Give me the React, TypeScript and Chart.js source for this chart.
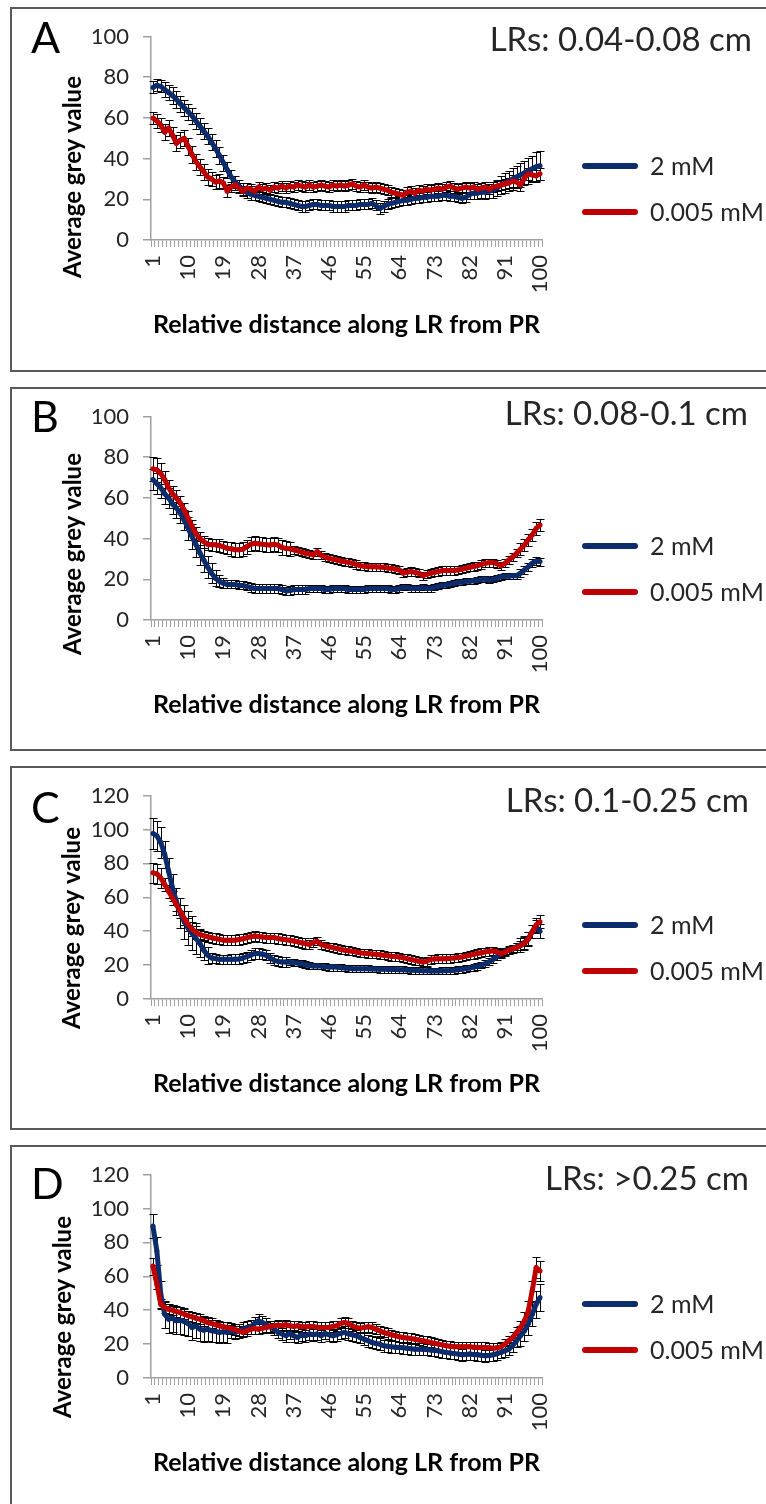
import React, { useEffect, useRef } from 'react';
import { Chart, registerables } from 'chart.js';

Chart.register(...registerables);

// ---------- data ----------
const categories: string[] = Array.from({ length: 100 }, (_, i) => String(i + 1));
const tickLabels = ['1', '10', '19', '28', '37', '46', '55', '64', '73', '82', '91', '100'];
const seriesNames = ['2 mM', '0.005 mM'];
const panelLetters = ['A', 'B', 'C', 'D'];
const panelRanges = ['LRs: 0.04-0.08 cm', 'LRs: 0.08-0.1 cm', 'LRs: 0.1-0.25 cm', 'LRs: >0.25 cm'];
const yMaxes = [100, 100, 120, 120];
const xTitle = 'Relative distance along LR from PR';
const yTitle = 'Average grey value';

const aBlue = [
  75, 76, 75.5, 74, 72.5, 71, 69, 67, 65, 63,
  61, 58.5, 56, 53.5, 51, 48, 45, 41.5, 38, 34.5,
  31, 28.5, 26.5, 25, 23.5, 22.5, 22, 21.5, 21, 20.5,
  20, 19.5, 19, 18.5, 18.5, 18, 17.5, 17, 16.5, 16.5,
  17, 17.5, 17.5, 17, 17, 17, 16.5, 16.5, 16.5, 16.5,
  17, 17, 17, 17.5, 17.5, 17.5, 18, 17, 15.5, 16.5,
  17.5, 18, 18.5, 19, 19.5, 19.5, 20, 20.5, 20.5, 21,
  21, 21.5, 21.5, 21.5, 22, 22, 21.5, 21.5, 21, 20.5,
  21, 22.5, 23, 23, 23.5, 23.5, 24, 24.5, 25.5, 27,
  28, 29, 30, 31, 32, 33, 34, 35, 36, 36.5,
];
const aRed = [
  60, 58.5, 56.5, 53, 55, 51.5, 47.5, 49, 50, 46,
  42, 38.5, 36, 33.5, 31, 30, 28.5, 29, 28, 24,
  26, 27, 25.5, 24, 25.5, 25, 24, 26, 25, 25.5,
  24.5, 26, 25.5, 26.5, 25.5, 26.5, 26, 27, 26.5, 26,
  27, 26, 26.5, 27, 26.5, 26, 27, 26.5, 27, 26.5,
  27, 27.5, 26.5, 26, 27, 26, 25.5, 26, 25.5, 25,
  24.5, 23.5, 23, 22.5, 22, 23.5, 24, 23, 24.5, 24,
  25, 24.5, 25, 25.5, 25, 26, 26.5, 25.5, 25, 25.5,
  26, 25.5, 26, 25, 25.5, 26, 25, 26, 26.5, 27,
  27.5, 28, 29, 28.5, 27, 30.5, 32.5, 32, 31.5, 32.5,
];
const aBlueErr = [
  3, 3, 3, 3.5, 3.5, 4, 4, 4, 4, 4,
  4, 4, 4, 4, 4, 4, 4, 4, 4, 4,
  3.5, 3, 3, 3, 3, 3, 2.5, 2.5, 2.5, 2.5,
  2.5, 2.5, 2.5, 2.5, 2.5, 2.5, 2.5, 2.5, 2.5, 2.5,
  2.5, 2.5, 2.5, 2.5, 2.5, 2.5, 2.5, 2.5, 2.5, 2.5,
  2.5, 2.5, 2.5, 2.5, 2.5, 2.5, 2.5, 2.5, 2.5, 2.5,
  2.5, 2.5, 2.5, 2.5, 2.5, 2.5, 2.5, 2.5, 2.5, 2.5,
  2.5, 2.5, 2.5, 2.5, 2.5, 2.5, 2.5, 2.5, 2.5, 2.5,
  2.5, 2.5, 3, 3, 3, 3.5, 3.5, 4, 4, 4.5,
  5, 5, 5.5, 5.5, 6, 6, 6.5, 6.5, 7, 7,
];
const aRedErr = [
  3, 3.5, 3.5, 4, 4, 4, 4, 4, 4, 4,
  4, 4, 4, 4, 4, 3.5, 3.5, 3.5, 3, 3,
  2.5, 2.5, 2.5, 2.5, 2.5, 2.5, 2.5, 2.5, 2.5, 2.5,
  2.5, 2.5, 2.5, 2.5, 2.5, 2.5, 2.5, 2.5, 2.5, 2.5,
  2.5, 2.5, 2.5, 2.5, 2.5, 2.5, 2.5, 2.5, 2.5, 2.5,
  2.5, 2.5, 2.5, 2.5, 2.5, 2.5, 2.5, 2.5, 2.5, 2.5,
  2.5, 2.5, 2.5, 2.5, 2.5, 2.5, 2.5, 2.5, 2.5, 2.5,
  2.5, 2.5, 2.5, 2.5, 2.5, 2.5, 2.5, 2.5, 2.5, 2.5,
  2.5, 2.5, 2.5, 2.5, 2.5, 2.5, 2.5, 2.5, 2.5, 2.5,
  2.5, 2.5, 3, 3, 3, 3, 3, 3, 3, 3,
];

const bBlue = [
  69, 67, 65, 62, 60, 57, 55, 52.5, 49, 45,
  41, 37, 33, 29.5, 26, 23, 20.5, 19, 18, 17.5,
  17.5, 17.5, 17, 17, 16.5, 16, 15.5, 15.5, 15.5, 15.5,
  15.5, 15.5, 15.5, 15, 14.3, 14.5, 15, 15, 15, 15,
  15.5, 15.5, 15.5, 15.5, 15, 15, 15.5, 15.5, 15.5, 15.5,
  15, 15, 15, 15, 15, 15.5, 15.5, 15.5, 15.5, 15.5,
  15.5, 15, 15, 15.5, 16, 16, 15.5, 15.5, 15.5, 16,
  15.5, 15.5, 16, 16.5, 17, 17.2, 17.7, 18, 18.5, 18.5,
  19, 19, 19.3, 19.5, 20, 20.2, 19.5, 20, 20.5, 21.3,
  21.5, 21.5, 21.8, 21.8, 23, 24.6, 26.2, 27.9, 29, 28.7,
];
const bRed = [
  74.3, 73.8, 72, 69, 65, 62, 60, 57.5, 54, 50,
  46, 42.5, 40, 38.5, 37.2, 37, 37, 36.6, 36, 35.2,
  35, 34.5, 34.5, 34.8, 36, 37.2, 37.7, 37.5, 37.2, 37,
  36.9, 37.2, 36.8, 35.6, 35.2, 35, 34.5, 34, 33.4, 32.8,
  32.4, 32, 33.6, 31.8, 31, 30.3, 29.9, 29.5, 29, 28.7,
  28.3, 27.9, 27.3, 26.7, 26.4, 26.2, 26.2, 26.2, 26, 25.9,
  25.6, 25.4, 25, 24.6, 23, 23.5, 23.8, 23.4, 23, 21.8,
  22.4, 23, 23.4, 23.8, 24.3, 24.3, 24.3, 24.3, 24.6, 25,
  25.4, 25.9, 26.3, 26.7, 27.3, 27.9, 28.2, 28.2, 27.6, 26.7,
  27.8, 29.5, 31, 32.8, 34.8, 36.9, 39.5, 41.8, 45, 46.7,
];
const bBlueErr = [
  5, 5, 5, 5, 5, 5, 5, 5, 5, 5.5,
  6, 6, 6, 6, 5.5, 5, 4, 3, 2.5, 2,
  2, 2, 2, 2, 2, 2, 2, 2, 2, 2,
  2, 2, 2, 2, 2, 2, 2, 2, 2, 2,
  1.5, 1.5, 1.5, 1.5, 1.5, 1.5, 1.5, 1.5, 1.5, 1.5,
  1.5, 1.5, 1.5, 1.5, 1.5, 1.5, 1.5, 1.5, 1.5, 1.5,
  1.5, 1.5, 1.5, 1.5, 1.5, 1.5, 1.5, 1.5, 1.5, 1.5,
  1.5, 1.5, 1.5, 1.5, 1.5, 1.5, 1.5, 1.5, 1.5, 1.5,
  1.5, 1.5, 1.5, 1.5, 1.5, 1.5, 1.5, 1.5, 1.5, 1.5,
  1.5, 1.5, 1.5, 1.5, 2, 2, 2, 2, 2, 2,
];
const bRedErr = [
  6, 6, 5, 4, 4, 4, 4, 3.5, 3.5, 3.5,
  3, 3, 3, 3, 3, 3, 3, 3, 3, 3,
  3.5, 3.5, 3.5, 3.5, 3.5, 3.5, 3.5, 3.5, 3.5, 3.5,
  3.5, 3.5, 3.5, 3.5, 3.5, 3.5, 2, 2, 2, 2,
  2, 2, 2, 2, 2, 2, 2, 2, 2, 2,
  2, 2, 2, 2, 2, 2, 2, 2, 2, 2,
  2, 2, 2, 2, 2, 2, 2, 2, 2, 2,
  2, 2, 2, 2, 2, 2, 2, 2, 2, 2,
  2, 2, 2, 2, 2, 2, 2, 2, 2, 2,
  2, 2, 2, 2, 3, 3, 3, 3, 3, 3,
];

const cBlue = [
  97.6, 96.2, 92.3, 85.3, 75.4, 65.5, 57.5, 50.6, 45.6, 41.7,
  38.7, 35.7, 32.7, 28.8, 25.8, 24.2, 23.8, 23.4, 23.4, 23.4,
  23.4, 23.4, 23.6, 24.2, 25, 25.8, 26.8, 26.8, 26.4, 25.8,
  24.2, 22.8, 22.2, 21.8, 21.8, 21.8, 21.4, 21.2, 20.8, 20.2,
  19.8, 19.4, 19.4, 19.4, 19, 18.8, 18.8, 18.8, 18.5, 18.3,
  18.1, 17.9, 17.9, 17.9, 17.9, 17.9, 17.7, 17.7, 17.5, 17.5,
  17.5, 17.4, 17.4, 17.3, 17.2, 17.1, 17, 16.9, 16.8, 16.7,
  16.6, 16.5, 16.5, 16.5, 16.6, 16.7, 16.8, 17, 17.2, 17.5,
  17.9, 18.3, 18.8, 19.2, 20, 20.8, 22, 23.4, 25, 26.8,
  27.8, 28.8, 29.8, 30.8, 32, 33.3, 35.7, 39.7, 42.7, 40,
];
const cRed = [
  74.4, 73.8, 71.4, 67.5, 63.5, 59.5, 55.6, 51.6, 47.6, 44,
  41.3, 39.3, 38.1, 37.3, 36.7, 36.1, 35.7, 35.3, 34.7, 34.7,
  34.7, 34.7, 35.1, 35.5, 36.1, 36.7, 37.1, 36.8, 36.5, 36.2,
  36.2, 36.2, 35.7, 35.3, 34.9, 34.7, 34.2, 33.7, 33.2, 32.7,
  32.2, 33.3, 34.1, 32.2, 31.4, 30.8, 30.3, 29.8, 29.3, 28.8,
  28.5, 28.2, 27.7, 27.2, 27, 26.8, 26.6, 26.4, 26.1, 25.8,
  25.5, 25.2, 25, 24.8, 24.3, 23.8, 23.3, 22.8, 22.3, 21.8,
  22.2, 23.4, 23.6, 23.8, 23.8, 23.8, 24, 24.2, 24.5, 24.8,
  25.3, 25.8, 26.3, 26.8, 27.3, 27.8, 28.1, 28.4, 27.8, 26.8,
  27.6, 28.8, 29.6, 30.4, 31.5, 32.7, 35.3, 39.7, 43.7, 45.6,
];
const cBlueErr = [
  9, 9, 9, 8, 8, 8, 8, 9, 10, 10,
  10, 9, 8, 6, 5, 3, 2.5, 2.5, 2.5, 2.5,
  3, 3, 3, 3, 3, 3, 3, 3, 3, 3,
  3, 3, 3, 3, 3, 2, 2, 2, 2, 2,
  2, 2, 2, 2, 2, 2, 2, 2, 2, 2,
  2, 2, 2, 2, 2, 2, 2, 2, 2, 2,
  2, 2, 2, 2, 2, 2, 2, 2, 2, 2,
  2, 2, 2, 2, 2, 2, 2, 2, 2, 2,
  2, 2, 2, 2, 2, 2, 2, 2, 2, 2,
  2, 2, 2, 2, 4, 4, 4, 4, 4, 4,
];
const cRedErr = [
  6, 6, 6, 4, 4, 4, 4, 4, 4, 4,
  4, 4, 3, 3, 3, 3, 3, 3, 3, 3,
  3, 3, 3, 3, 3, 3, 3, 3, 3, 3,
  3, 3, 3, 3, 3, 3, 3, 3, 3, 3,
  2.5, 2.5, 2.5, 2.5, 2.5, 2.5, 2.5, 2.5, 2.5, 2.5,
  2.5, 2.5, 2.5, 2.5, 2.5, 2.5, 2.5, 2.5, 2.5, 2.5,
  2.5, 2.5, 2.5, 2.5, 2.5, 2.5, 2.5, 2.5, 2.5, 2.5,
  2.5, 2.5, 2.5, 2.5, 2.5, 2.5, 2.5, 2.5, 2.5, 2.5,
  2.5, 2.5, 2.5, 2.5, 2.5, 2.5, 2.5, 2.5, 2.5, 2.5,
  2.5, 2.5, 2.5, 2.5, 2.5, 4, 4, 4, 4, 4,
];

const dBlue = [
  89.6, 74.9, 49.4, 37.6, 34.7, 35.3, 33.7, 34.1, 33.3, 32.2,
  29.8, 30.8, 28.8, 28.2, 28.8, 27.8, 27.5, 26.9, 27.3, 26.9,
  27.5, 26.9, 27.8, 28.8, 29.8, 30.2, 32.2, 33.7, 32.7, 31.4,
  30.2, 28.8, 26.9, 25.9, 24.9, 26.3, 24.9, 23.9, 25.5, 24.9,
  25.9, 25.5, 25.9, 24.9, 26.3, 25.5, 24.9, 25.5, 26.3, 26.9,
  25.9, 25.5, 24.9, 23.9, 22.9, 22, 21, 20.4, 20, 19,
  18.7, 18.4, 18.2, 18, 17.8, 17.6, 17.3, 17, 17, 17,
  16.8, 16.5, 16.2, 16, 15.5, 15.1, 14.8, 14.5, 14.1, 13.7,
  13.9, 14.1, 13.9, 13.7, 13.4, 13.1, 13.3, 13.7, 14.3, 15.1,
  16, 17, 19, 22, 24.9, 27.8, 32.2, 37.6, 43.5, 47.5,
];
const dRed = [
  66, 55.3, 43.5, 41.6, 40.6, 40, 39.2, 38.6, 37.6, 36.7,
  36.1, 35.3, 34.7, 33.7, 32.7, 32.2, 31.4, 30.8, 30.2, 29.8,
  29.2, 28.6, 27.8, 26.9, 27.8, 28.8, 29.2, 28.8, 29.4, 29.8,
  30.4, 30.8, 31.2, 30.8, 31.4, 30.8, 30.4, 30.8, 30.2, 30.2,
  30.4, 30.4, 30, 29.8, 29.8, 29.8, 30.4, 30.8, 32.2, 32.7,
  32.2, 30.8, 29.8, 29.4, 29.8, 30.2, 29.8, 28.8, 27.8, 26.9,
  26.2, 25.5, 24.9, 24.3, 23.9, 23.6, 23.3, 22.9, 22.4, 22,
  21.5, 21, 20.5, 20, 19.5, 19, 18.7, 18.4, 18.4, 18.4,
  18.4, 18.4, 18.2, 18, 18, 18, 17.8, 17.6, 17.8, 18.4,
  20, 22, 24, 26.9, 29.8, 33.7, 39.6, 51.4, 65.1, 63.1,
];
const dBlueErr = [
  7, 8, 8, 8, 8, 8, 8, 8, 8, 7.5,
  7.5, 7.5, 7, 7, 7, 6.5, 6.5, 6, 6, 6,
  4, 4, 4, 4, 4, 4, 4, 4, 4, 4,
  3.5, 3.5, 3.5, 3.5, 3.5, 3.5, 3.5, 3.5, 3.5, 3.5,
  3.5, 3.5, 3.5, 3.5, 3.5, 3.5, 3.5, 3.5, 3.5, 3.5,
  3.5, 3.5, 3.5, 3.5, 3.5, 3.5, 3.5, 3.5, 3.5, 3.5,
  3.5, 3.5, 3.5, 3.5, 3.5, 3.5, 3.5, 3.5, 3.5, 3.5,
  3.5, 3.5, 3.5, 3.5, 3.5, 3.5, 3.5, 3.5, 3.5, 3.5,
  3.5, 3.5, 3.5, 3.5, 3.5, 3.5, 3.5, 3.5, 3.5, 3.5,
  3.5, 3.5, 3.5, 3.5, 6, 6, 7, 7, 8, 8,
];
const dRedErr = [
  5, 3, 3, 3, 3, 3, 3, 3, 3, 3,
  3, 3, 3, 3, 3, 3, 3, 3, 3, 3,
  3, 3, 3, 3, 3, 3, 3, 3, 3, 3,
  3, 3, 3, 3, 3, 3, 3, 3, 3, 3,
  3, 3, 3, 3, 3, 3, 3, 3, 3, 3,
  3, 3, 3, 3, 3, 3, 3, 3, 3, 3,
  3, 3, 3, 3, 3, 3, 3, 3, 3, 3,
  3, 3, 3, 3, 3, 3, 3, 3, 3, 3,
  3, 3, 3, 3, 3, 3, 3, 3, 3, 3,
  3, 3, 3, 3, 4, 5, 6, 6, 6, 6,
];

const panelBlue = [aBlue, bBlue, cBlue, dBlue];
const panelRed = [aRed, bRed, cRed, dRed];
const panelBlueErr = [aBlueErr, bBlueErr, cBlueErr, dBlueErr];
const panelRedErr = [aRedErr, bRedErr, cRedErr, dRedErr];

// ---------- layout / style ----------
const BLUE = '#0c2c6c';
const RED = '#c00000';
const FONT = 'Lato';
const TEXT = '#262626';
const AXIS = '#a0a0a0';
const CANVAS_W = 770;
const CANVAS_H = 365;
const panelTops = [7, 387, 766, 1145];
const panelHeights = [365, 364, 364, 380];
const letterBase = [46, 45, 57, 54];
const rangeBase = [44, 38, 46, 45];
const rangeRight = [742, 738, 739, 739];
const yTitlePos = [[63, 170], [63, 167], [62, 162], [53, 172]];
const legendRows = [159, 205];

const errorBarPlugin = {
  id: 'errorBars',
  beforeDatasetsDraw(chart: any) {
    const { ctx } = chart;
    const y = chart.scales.y;
    ctx.save();
    ctx.strokeStyle = '#000';
    ctx.lineWidth = 1;
    chart.data.datasets.forEach((ds: any, di: number) => {
      const errs = ds.errors;
      if (!errs) return;
      const meta = chart.getDatasetMeta(di);
      meta.data.forEach((pt: any, i: number) => {
        const v = ds.data[i];
        const e = errs[i];
        const x = Math.round(pt.x) + 0.5;
        const yt = Math.round(y.getPixelForValue(v + e)) + 0.5;
        const yb = Math.round(y.getPixelForValue(v - e)) + 0.5;
        ctx.beginPath();
        ctx.moveTo(x, yt);
        ctx.lineTo(x, yb);
        ctx.moveTo(x - 4, yt);
        ctx.lineTo(x + 4, yt);
        ctx.moveTo(x - 4, yb);
        ctx.lineTo(x + 4, yb);
        ctx.stroke();
      });
    });
    ctx.restore();
  },
};

const panelTextPlugin = {
  id: 'panelText',
  afterDraw(chart: any, _args: any, opts: any) {
    const { ctx } = chart;
    ctx.save();
    ctx.fillStyle = '#000';
    ctx.textAlign = 'left';
    ctx.textBaseline = 'alphabetic';
    ctx.font = `43px ${FONT}`;
    ctx.fillText(opts.letter, 21, opts.letterY);

    ctx.fillStyle = TEXT;
    ctx.font = `33px ${FONT}`;
    ctx.textAlign = 'right';
    ctx.fillText(opts.range, opts.rangeX, opts.rangeY);

    ctx.save();
    ctx.translate(opts.yTitleX, opts.yTitleY);
    ctx.rotate(-Math.PI / 2);
    ctx.fillStyle = '#000';
    ctx.font = `bold 24px ${FONT}`;
    ctx.textAlign = 'center';
    ctx.textBaseline = 'middle';
    ctx.fillText(opts.yTitle, 0, 0);
    ctx.restore();

    opts.legend.forEach((item: any, k: number) => {
      const yy = legendRows[k];
      ctx.strokeStyle = item.color;
      ctx.lineWidth = 6;
      ctx.lineCap = 'round';
      ctx.beginPath();
      ctx.moveTo(575, yy);
      ctx.lineTo(625, yy);
      ctx.stroke();
      ctx.fillStyle = TEXT;
      ctx.font = `25px ${FONT}`;
      ctx.textAlign = 'left';
      ctx.textBaseline = 'middle';
      ctx.fillText(item.text, 640, yy + 1);
    });
    ctx.restore();
  },
};

function Panel({ idx }: { idx: number }) {
  const ref = useRef<HTMLCanvasElement | null>(null);
  useEffect(() => {
    if (!ref.current) return;
    const chart = new Chart(ref.current, {
      type: 'line',
      data: {
        labels: categories,
        datasets: [
          {
            label: seriesNames[0],
            data: panelBlue[idx],
            errors: panelBlueErr[idx],
            borderColor: BLUE,
            backgroundColor: BLUE,
            borderWidth: 5,
            pointRadius: 2.5,
            pointBorderWidth: 0,
            pointBackgroundColor: BLUE,
            borderJoinStyle: 'round',
            order: 1,
          } as any,
          {
            label: seriesNames[1],
            data: panelRed[idx],
            errors: panelRedErr[idx],
            borderColor: RED,
            backgroundColor: RED,
            borderWidth: 5,
            pointRadius: 2.5,
            pointBorderWidth: 0,
            pointBackgroundColor: RED,
            borderJoinStyle: 'round',
            order: 0,
          } as any,
        ],
      },
      options: {
        animation: false,
        responsive: false,
        devicePixelRatio: 1,
        layout: { padding: { left: 0, right: 238, top: 29.5, bottom: 0 } },
        plugins: {
          legend: { display: false },
          tooltip: { enabled: false },
          panelText: {
            letter: panelLetters[idx],
            letterY: letterBase[idx],
            range: panelRanges[idx],
            rangeX: rangeRight[idx],
            rangeY: rangeBase[idx],
            yTitle,
            yTitleX: yTitlePos[idx][0],
            yTitleY: yTitlePos[idx][1],
            legend: [
              { text: seriesNames[0], color: BLUE },
              { text: seriesNames[1], color: RED },
            ],
          },
        } as any,
        scales: {
          x: {
            type: 'category',
            offset: true,
            afterFit: (s: any) => {
              s.height = CANVAS_H - 233;
            },
            ticks: {
              autoSkip: false,
              maxRotation: 90,
              minRotation: 90,
              padding: 8,
              color: TEXT,
              font: { family: FONT, size: 22 },
              callback: function (this: any, val: any) {
                const l = this.getLabelForValue(val);
                return tickLabels.includes(l) ? l : '';
              },
            },
            grid: {
              offset: true,
              drawOnChartArea: false,
              drawTicks: true,
              tickLength: 7,
              color: AXIS,
              lineWidth: 1,
            },
            border: { display: true, color: AXIS, width: 1.5 },
            title: {
              display: true,
              text: xTitle,
              color: '#000',
              font: { family: FONT, size: 25, weight: 'bold' },
              padding: { top: 0, bottom: 32 },
            },
          },
          y: {
            min: 0,
            max: yMaxes[idx],
            afterFit: (s: any) => {
              s.width = 141;
            },
            ticks: {
              stepSize: 20,
              padding: 14,
              color: TEXT,
              font: { family: FONT, size: 22 },
            },
            grid: {
              drawOnChartArea: false,
              drawTicks: true,
              tickLength: 8,
              color: AXIS,
              lineWidth: 1.5,
            },
            border: { display: true, color: AXIS, width: 1.5 },
          },
        },
      } as any,
      plugins: [errorBarPlugin, panelTextPlugin],
    });
    return () => chart.destroy();
  }, [idx]);

  return (
    <div
      style={{
        position: 'absolute',
        left: 10,
        top: panelTops[idx],
        width: CANVAS_W,
        height: panelHeights[idx],
      }}
    >
      <canvas
        ref={ref}
        width={CANVAS_W}
        height={CANVAS_H}
        style={{ position: 'absolute', left: 0, top: 0, width: CANVAS_W, height: CANVAS_H }}
      />
      <div
        style={{
          position: 'absolute',
          left: 0,
          top: 0,
          right: 0,
          bottom: 0,
          border: '2px solid #595959',
          boxSizing: 'border-box',
          pointerEvents: 'none',
        }}
      />
    </div>
  );
}

export default function App() {
  return (
    <div
      style={{
        position: 'absolute',
        left: 0,
        top: 0,
        width: 766,
        height: 1504,
        overflow: 'hidden',
        background: '#fff',
      }}
    >
      {[0, 1, 2, 3].map((i) => (
        <Panel key={i} idx={i} />
      ))}
    </div>
  );
}
